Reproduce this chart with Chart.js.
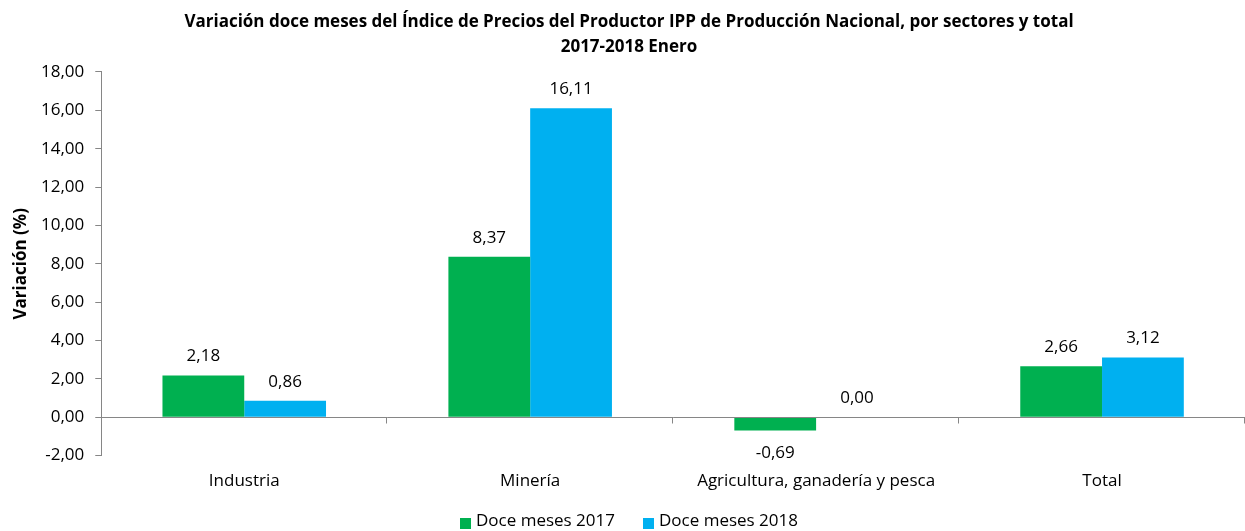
<!DOCTYPE html>
<html>
<head>
<meta charset="utf-8">
<script src="https://cdn.jsdelivr.net/npm/chart.js@4/dist/chart.umd.min.js"></script>
<style>
html,body{margin:0;padding:0;background:#fff;}
#wrap{width:1245px;height:531px;position:relative;}
</style>
</head>
<body>
<div id="wrap"><canvas id="c" width="1245" height="531"></canvas></div>
<script>
const categories = ["Industria", "Minería", "Agricultura, ganadería y pesca", "Total"];
const series2017 = [2.18, 8.37, -0.69, 2.66];
const series2018 = [0.86, 16.11, 0.00, 3.12];
const seriesNames = ["Doce meses 2017", "Doce meses 2018"];
const titleLines = ["Variación doce meses del Índice de Precios del Productor IPP de Producción Nacional, por sectores y total", "2017-2018 Enero"];
const yTitle = "Variación (%)";
const yMin = -2, yMax = 18, yStep = 2;

const FONT = "'Open Sans', sans-serif";
const FS = 17;
const AXIS = "#868686";
const COLORS = ["#00B050", "#00B0F0"];
const fmt = v => v.toFixed(2).replace('.', ',');

const labelPlugin = {
  id: 'valLabels',
  afterDatasetsDraw(chart) {
    const ctx = chart.ctx;
    ctx.save();
    ctx.font = FS + "px " + FONT;
    ctx.fillStyle = "#000";
    ctx.textAlign = "center";
    ctx.textBaseline = "middle";
    chart.data.datasets.forEach((ds, di) => {
      const meta = chart.getDatasetMeta(di);
      meta.data.forEach((el, i) => {
        const v = ds.data[i];
        const y = v >= 0 ? el.y - 19 : el.y + 23;
        ctx.fillText(fmt(v), el.x, y);
      });
    });
    ctx.restore();
  }
};

const zeroPlugin = {
  id: 'zeroLine',
  afterDatasetsDraw(chart) {
    const ctx = chart.ctx;
    const ys = chart.scales.y, xs = chart.scales.x;
    const y0 = Math.round(ys.getPixelForValue(0)) + 0.5;
    ctx.save();
    ctx.strokeStyle = AXIS;
    ctx.lineWidth = 1;
    ctx.beginPath();
    ctx.moveTo(xs.left, y0);
    ctx.lineTo(xs.right, y0);
    const n = categories.length;
    const w = (xs.right - xs.left) / n;
    for (let i = 1; i <= n; i++) {
      const x = Math.round(xs.left + i * w) - 0.5;
      ctx.moveTo(x, y0);
      ctx.lineTo(x, y0 + 6);
    }
    ctx.stroke();
    ctx.restore();
  }
};

const legendPlugin = {
  id: 'customLegend',
  afterDraw(chart) {
    const ctx = chart.ctx;
    ctx.save();
    ctx.font = FS + "px " + FONT;
    ctx.textBaseline = "middle";
    ctx.textAlign = "left";
    const box = 11, gapText = 5, gapItem = 28;
    const names = chart.data.datasets.map(d => d.label);
    const widths = names.map(t => ctx.measureText(t).width);
    let total = 0;
    widths.forEach((w, i) => { total += box + gapText + w + (i < widths.length - 1 ? gapItem : 0); });
    let x = 629 - total / 2;
    const yc = 521;
    names.forEach((t, i) => {
      ctx.fillStyle = chart.data.datasets[i].backgroundColor;
      ctx.fillRect(x, yc - 3, box, box);
      x += box + gapText;
      ctx.fillStyle = "#000";
      ctx.fillText(t, x, yc);
      x += widths[i] + gapItem;
    });
    ctx.restore();
  }
};

new Chart(document.getElementById('c'), {
  type: 'bar',
  data: {
    labels: categories,
    datasets: [
      { label: seriesNames[0], data: series2017, backgroundColor: COLORS[0], categoryPercentage: 0.572, barPercentage: 1.0 },
      { label: seriesNames[1], data: series2018, backgroundColor: COLORS[1], categoryPercentage: 0.572, barPercentage: 1.0 }
    ]
  },
  options: {
    responsive: false,
    animation: false,
    layout: { padding: { left: 13, right: 0, top: 0, bottom: 33 } },
    plugins: {
      title: {
        display: true,
        text: titleLines,
        font: { family: FONT, size: 17, weight: 'bold', lineHeight: 1.47 },
        color: "#000",
        padding: { top: 10, bottom: 12 }
      },
      legend: { display: false },
      tooltip: { enabled: false }
    },
    scales: {
      x: {
        grid: { display: false },
        border: { display: false },
        ticks: { font: { family: FONT, size: FS }, color: "#000", padding: 7, maxRotation: 0 }
      },
      y: {
        min: yMin, max: yMax,
        grid: { display: true, drawOnChartArea: false, drawTicks: true, tickLength: 6, color: AXIS },
        border: { display: true, color: AXIS },
        ticks: { stepSize: yStep, font: { family: FONT, size: FS }, color: "#000", padding: 11, callback: v => fmt(v) },
        title: { display: true, text: yTitle, font: { family: FONT, size: FS, weight: 'bold', lineHeight: 1.0 }, color: "#000", padding: { top: 0, bottom: 0 } }
      }
    }
  },
  plugins: [labelPlugin, zeroPlugin, legendPlugin]
});
</script>
</body>
</html>
